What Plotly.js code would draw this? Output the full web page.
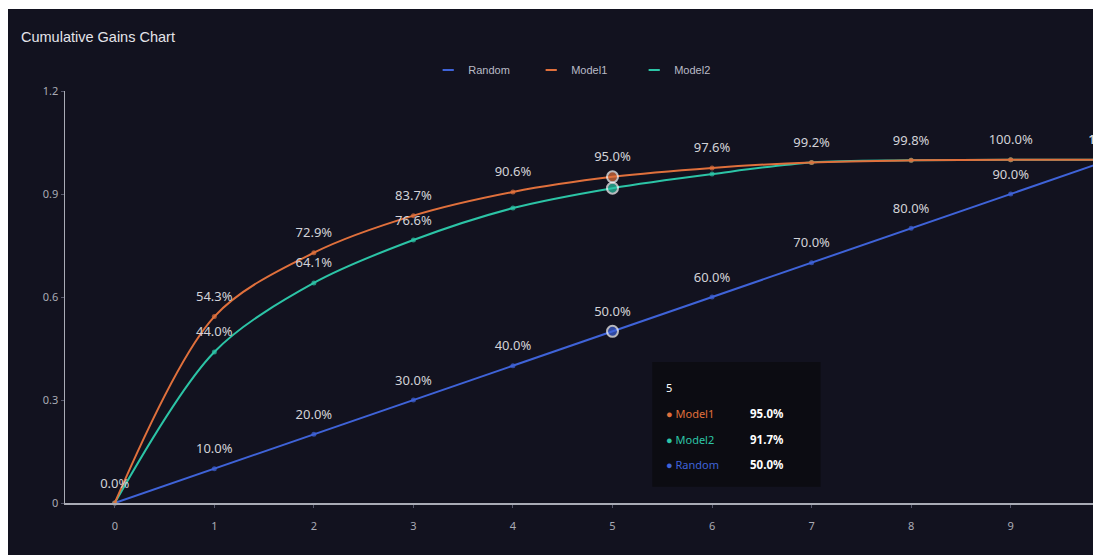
<!DOCTYPE html>
<html>
<head>
<meta charset="utf-8">
<script src="https://cdn.plot.ly/plotly-3.0.1.min.js"></script>
<style>
  html, body { margin: 0; padding: 0; background: #ffffff; overflow: hidden; width: 1093px; height: 555px; }
  #chart { position: absolute; left: 8px; top: 9px; width: 1182px; height: 546px; }
</style>
</head>
<body>
<div id="chart"></div>
<script>
// ---- data ----
const deciles = [0, 1, 2, 3, 4, 5, 6, 7, 8, 9, 10];
const randomGain = [0, 0.10, 0.20, 0.30, 0.40, 0.50, 0.60, 0.70, 0.80, 0.90, 1.00];
const model1Gain = [0, 0.543, 0.729, 0.837, 0.906, 0.950, 0.976, 0.992, 0.998, 1.000, 1.000];
const model2Gain = [0, 0.440, 0.641, 0.766, 0.859, 0.917, 0.958, 0.992, 0.998, 1.000, 1.000];
// which labels are visible (others hidden by overlap in the original)
const randomShow = [1, 1, 1, 1, 1, 1, 1, 1, 1, 1, 1];
const model1Show = [0, 1, 1, 1, 1, 1, 1, 1, 1, 1, 1];
const model2Show = [0, 1, 1, 1, 0, 0, 0, 0, 0, 0, 0];
const legendOrder = ['Random', 'Model1', 'Model2'];
const hoverIndex = 5;
const yTicks = [0, 0.3, 0.6, 0.9, 1.2];

// ---- styles ----
const colors = { Random: '#3f63d8', Model1: '#e0703c', Model2: '#2cc4a6' };
const bg = '#12121f';
const labelColor = '#d2d2d8';
const axisColor = '#a9abb5';
const fmt = v => (v * 100).toFixed(1) + '%';

function lineTrace(name, ys, smooth) {
  return {
    x: deciles, y: ys, name: name, type: 'scatter', mode: 'lines+markers',
    showlegend: false, hoverinfo: 'skip', cliponaxis: false,
    line: { color: colors[name], width: 2, shape: smooth ? 'spline' : 'linear', smoothing: 0.9 },
    marker: {
      color: colors[name],
      size: deciles.map(i => i === hoverIndex ? 11 : 5),
      line: { color: deciles.map(i => i === hoverIndex ? '#ffffff' : colors[name]), width: deciles.map(i => i === hoverIndex ? 2 : 0) }
    }
  };
}
function textTrace(name, ys, show) {
  return {
    x: deciles, y: ys, type: 'scatter', mode: 'markers+text', showlegend: false,
    hoverinfo: 'skip', cliponaxis: false,
    marker: { size: 18, color: 'rgba(0,0,0,0)' },
    text: ys.map((v, i) => show[i] ? fmt(v) : ''),
    textposition: 'top center',
    textfont: { family: 'Noto Sans, sans-serif', size: 13, color: labelColor }
  };
}
function legendTrace(name) {
  return { x: [null], y: [null], name: name, type: 'scatter', mode: 'markers',
    marker: { symbol: 'line-ew', size: 8, color: colors[name], line: { color: colors[name], width: 2 } },
    showlegend: true, hoverinfo: 'skip' };
}

const data = [
  lineTrace('Random', randomGain, false),
  lineTrace('Model2', model2Gain, true),
  lineTrace('Model1', model1Gain, true),
  textTrace('Random', randomGain, randomShow),
  textTrace('Model2', model2Gain, model2Show),
  textTrace('Model1', model1Gain, model1Show)
].concat(legendOrder.map(legendTrace));

// tooltip overlay (hovered decile)
const tipRows = [
  { name: 'Model1', v: model1Gain[hoverIndex] },
  { name: 'Model2', v: model2Gain[hoverIndex] },
  { name: 'Random', v: randomGain[hoverIndex] }
];
const annotations = [{
  xref: 'x', yref: 'y', x: 5.52, y: 0.335, xanchor: 'left', yanchor: 'middle', showarrow: false,
  text: String(deciles[hoverIndex]), font: { family: 'Noto Sans, sans-serif', size: 11, color: '#ffffff' }
}];
const rowY = [0.262, 0.186, 0.111];
tipRows.forEach((r, k) => {
  annotations.push({
    xref: 'x', yref: 'y', x: 5.52, y: rowY[k], xanchor: 'left', yanchor: 'middle', showarrow: false,
    text: '<span style="font-size:11px">●</span> ' + r.name,
    font: { family: 'Noto Sans, sans-serif', size: 11, color: colors[r.name] }
  });
  annotations.push({
    xref: 'x', yref: 'y', x: 6.36, y: rowY[k], xanchor: 'left', yanchor: 'middle', showarrow: false,
    text: '<b>' + fmt(r.v) + '</b>',
    font: { family: 'Noto Sans, sans-serif', size: 11.5, color: '#ffffff' }
  });
});

const layout = {
  width: 1182, height: 546,
  paper_bgcolor: bg, plot_bgcolor: bg,
  margin: { l: 57, r: 30, t: 82, b: 52 },
  title: { text: 'Cumulative Gains Chart', x: 0.011, xanchor: 'left', y: 0.948, yanchor: 'middle',
    font: { family: 'Liberation Sans, Arial, sans-serif', size: 14.5, color: '#e4e4ea' } },
  showlegend: true,
  legend: { orientation: 'h', x: 0.3317, xanchor: 'left', y: 1.051, yanchor: 'middle',
    entrywidth: 58, entrywidthmode: 'pixels',
    font: { family: 'Liberation Sans, Arial, sans-serif', size: 11, color: '#b9bbc6' },
    bgcolor: 'rgba(0,0,0,0)', traceorder: 'normal' },
  xaxis: {
    range: [-0.5, 10.5], tickmode: 'array', tickvals: deciles.slice(0, 10), ticktext: deciles.slice(0, 10).map(String),
    showgrid: false, zeroline: false, showline: true, linecolor: axisColor, linewidth: 1.5,
    ticks: 'outside', ticklen: 3, tickcolor: '#55576a', ticklabelstandoff: 9,
    tickfont: { family: 'Noto Sans, sans-serif', size: 11, color: axisColor }
  },
  yaxis: {
    range: [0, 1.2], tickmode: 'array', tickvals: yTicks, ticktext: yTicks.map(String),
    showgrid: false, zeroline: false, showline: true, linecolor: axisColor, linewidth: 1.5,
    ticks: 'outside', ticklen: 3, tickcolor: '#55576a',
    tickfont: { family: 'Noto Sans, sans-serif', size: 11, color: axisColor }
  },
  shapes: [{
    type: 'rect', xref: 'x', yref: 'y', x0: 5.40, x1: 7.09, y0: 0.047, y1: 0.411,
    fillcolor: '#0c0c12', line: { width: 0 }, layer: 'above'
  }],
  annotations: annotations
};

Plotly.newPlot('chart', data, layout, { displayModeBar: false, staticPlot: true });
</script>
</body>
</html>
